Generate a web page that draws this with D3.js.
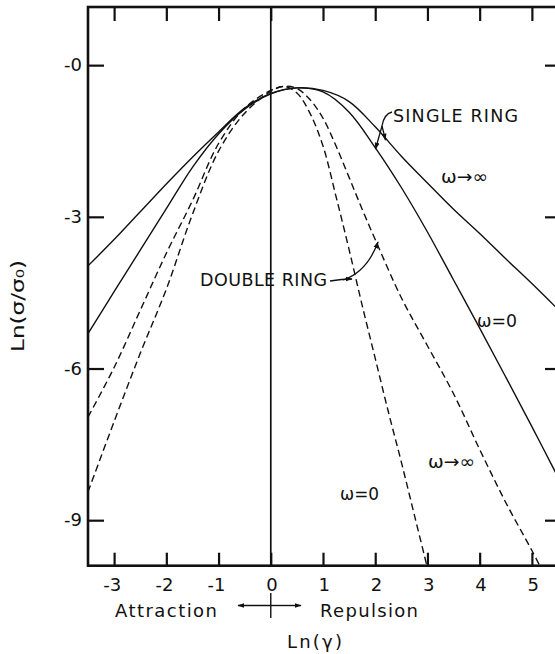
<!DOCTYPE html>
<html>
<head>
<meta charset="utf-8">
<script src="https://cdn.jsdelivr.net/npm/d3@7"></script>
<style>
  html, body { margin: 0; padding: 0; background: #fff; }
  svg { display: block; }
  text { font-family: "DejaVu Sans", "Liberation Sans", sans-serif; fill: #111; }
</style>
</head>
<body>
<svg id="chart" width="555" height="654"></svg>
<script>
// ---------- data ----------
const xTicks = [-3, -2, -1, 0, 1, 2, 3, 4, 5];
const xTickLabels = ["-3", "-2", "-1", "0", "1", "2", "3", "4", "5"];
const yTicks = [0, -3, -6, -9];
const yTickLabels = ["-0", "-3", "-6", "-9"];

// Single ring, omega -> infinity (solid)
const singleInfX = [-3.5, -3, -2.5, -2, -1.5, -1, -0.5, 0, 0.5, 1, 1.5, 2, 2.5, 3, 3.5, 4, 4.5, 5, 5.5];
const singleInfY = [-3.97, -3.45, -2.9, -2.35, -1.82, -1.32, -0.85, -0.56, -0.45, -0.5, -0.72, -1.22, -1.8, -2.33, -2.85, -3.33, -3.83, -4.32, -4.83];
// Single ring, omega = 0 (solid)
const singleZeroX = [-3.5, -3, -2.5, -2, -1.5, -1, -0.5, 0, 0.5, 1, 1.5, 2, 2.5, 3, 3.5, 4, 4.5, 5, 5.5];
const singleZeroY = [-5.31, -4.48, -3.66, -2.84, -2.02, -1.36, -0.87, -0.57, -0.45, -0.53, -0.93, -1.63, -2.42, -3.3, -4.25, -5.2, -6.17, -7.15, -8.15];
// Double ring, omega -> infinity (dashed)
const doubleInfX = [-3.5, -3, -2.5, -2, -1.5, -1, -0.5, 0, 0.25, 0.5, 0.75, 1, 1.25, 1.5, 1.75, 2, 2.5, 3, 3.5, 4, 4.5, 5, 5.3];
const doubleInfY = [-6.96, -5.98, -4.85, -3.72, -2.68, -1.55, -0.85, -0.5, -0.42, -0.46, -0.68, -1.05, -1.6, -2.22, -2.85, -3.45, -4.6, -5.55, -6.5, -7.6, -8.65, -9.6, -10.2];
// Double ring, omega = 0 (dashed)
const doubleZeroX = [-3.5, -3, -2.5, -2, -1.5, -1, -0.5, 0, 0.25, 0.5, 0.75, 1, 1.25, 1.5, 1.75, 2, 2.25, 2.5, 2.75, 3, 3.1];
const doubleZeroY = [-8.44, -7.05, -5.7, -4.43, -2.95, -1.7, -0.95, -0.52, -0.42, -0.55, -0.95, -1.6, -2.6, -3.65, -4.75, -5.8, -6.85, -7.85, -8.9, -9.95, -10.4];

const seriesNames = ["single ω→∞", "single ω=0", "double ω→∞", "double ω=0"];
const seriesDash = [false, false, true, true];

// ---------- layout ----------
const svg = d3.select("#chart");
const mLeft = 88, mRight = 558, mTop = 7, mBottom = 565.7;
const x = d3.scaleLinear().domain([-3.5, 5.5]).range([mLeft, mRight]);
const y = d3.scaleLinear().domain([1.15, -9.9]).range([mTop, mBottom]);

const defs = svg.append("defs");
defs.append("clipPath").attr("id", "plotclip")
  .append("rect").attr("x", mLeft).attr("y", mTop).attr("width", mRight - mLeft).attr("height", mBottom - mTop);
defs.append("marker").attr("id", "arr").attr("viewBox", "0 0 10 10")
  .attr("refX", 9).attr("refY", 5).attr("markerWidth", 7).attr("markerHeight", 7)
  .attr("orient", "auto-start-reverse").attr("markerUnits", "userSpaceOnUse")
  .append("path").attr("d", "M0,1.5 L10,5 L0,8.5 Z").attr("fill", "#111");

// ---------- curves ----------
const xs = [singleInfX, singleZeroX, doubleInfX, doubleZeroX];
const ys = [singleInfY, singleZeroY, doubleInfY, doubleZeroY];
const line = d3.line().x(d => x(d[0])).y(d => y(d[1])).curve(d3.curveCatmullRom.alpha(0.5));
const gCurves = svg.append("g").attr("clip-path", "url(#plotclip)");
xs.forEach((xv, i) => {
  const pts = xv.map((v, j) => [v, ys[i][j]]);
  gCurves.append("path").datum(pts)
    .attr("d", line)
    .attr("fill", "none").attr("stroke", "#111").attr("stroke-width", 1.4)
    .attr("stroke-dasharray", seriesDash[i] ? "7,4" : null)
    .attr("data-name", seriesNames[i]);
});

// vertical line at x = 0
svg.append("line").attr("x1", x(0)).attr("x2", x(0)).attr("y1", mTop).attr("y2", mBottom)
  .attr("stroke", "#111").attr("stroke-width", 1.7);

// ---------- frame ----------
svg.append("rect").attr("x", mLeft).attr("y", mTop).attr("width", mRight - mLeft).attr("height", mBottom - mTop)
  .attr("fill", "none").attr("stroke", "#111").attr("stroke-width", 2.6);

// ---------- axes (ticks inside) ----------
const axB = d3.axisBottom(x).tickValues(xTicks).tickSize(-13).tickPadding(0).tickFormat((d, i) => xTickLabels[i]);
const gB = svg.append("g").attr("transform", `translate(0,${mBottom})`).call(axB);
gB.select(".domain").remove();
gB.selectAll("line").attr("stroke", "#111").attr("stroke-width", 2.2);
gB.selectAll("text")
  .attr("font-size", 18).attr("dy", null).attr("y", 25).attr("fill", "#111")
  .attr("font-family", "DejaVu Sans, sans-serif")
  .attr("text-anchor", "end").attr("x", 6.5);

const axT = d3.axisTop(x).tickValues(xTicks).tickSize(-14).tickFormat("");
const gT = svg.append("g").attr("transform", `translate(0,${mTop})`).call(axT);
gT.select(".domain").remove();
gT.selectAll("line").attr("stroke", "#111").attr("stroke-width", 2.2);

const axL = d3.axisLeft(y).tickValues(yTicks).tickSize(-16).tickPadding(0).tickFormat((d, i) => yTickLabels[i]);
const gL = svg.append("g").attr("transform", `translate(${mLeft},0)`).call(axL);
gL.select(".domain").remove();
gL.selectAll("line").attr("stroke", "#111").attr("stroke-width", 2.2);
gL.selectAll("text").attr("font-size", 18).attr("x", -6).attr("fill", "#111")
  .attr("font-family", "DejaVu Sans, sans-serif");

const axR = d3.axisRight(y).tickValues(yTicks).tickSize(-13).tickFormat("");
const gR = svg.append("g").attr("transform", `translate(${mRight},0)`).call(axR);
gR.select(".domain").remove();
gR.selectAll("line").attr("stroke", "#111").attr("stroke-width", 2.2);

// ---------- axis titles ----------
svg.append("text").attr("transform", "translate(24,306) rotate(-90)")
  .attr("text-anchor", "middle").attr("font-size", 18)
  .attr("textLength", 92).attr("lengthAdjust", "spacingAndGlyphs").text("Ln(σ/σ₀)");
svg.append("text").attr("x", 287).attr("y", 648)
  .attr("font-size", 18).attr("textLength", 55).attr("lengthAdjust", "spacing").text("Ln(γ)");
svg.append("text").attr("x", 115).attr("y", 617).attr("font-size", 18)
  .attr("textLength", 102).attr("lengthAdjust", "spacing").text("Attraction");
svg.append("text").attr("x", 320).attr("y", 617).attr("font-size", 18)
  .attr("textLength", 98).attr("lengthAdjust", "spacing").text("Repulsion");
// attraction / repulsion arrow
svg.append("line").attr("x1", x(0)).attr("x2", 238).attr("y1", 605.5).attr("y2", 605.5)
  .attr("stroke", "#111").attr("stroke-width", 1.4).attr("marker-end", "url(#arr)");
svg.append("line").attr("x1", x(0)).attr("x2", 301).attr("y1", 605.5).attr("y2", 605.5)
  .attr("stroke", "#111").attr("stroke-width", 1.4).attr("marker-end", "url(#arr)");
svg.append("line").attr("x1", x(0)).attr("x2", x(0)).attr("y1", 593).attr("y2", 618)
  .attr("stroke", "#111").attr("stroke-width", 1.4);

// ---------- annotations ----------
svg.append("text").attr("x", 393).attr("y", 122).attr("font-size", 17.5)
  .attr("textLength", 125).attr("lengthAdjust", "spacing").text("SINGLE RING");
svg.append("text").attr("x", 200).attr("y", 286).attr("font-size", 17.5)
  .attr("textLength", 127).attr("lengthAdjust", "spacing").text("DOUBLE RING");

const ann = svg.append("g").attr("fill", "none").attr("stroke", "#111").attr("stroke-width", 1.3);
ann.append("path").attr("d", "M392,112 Q384,114 382,126 L375.5,149").attr("marker-end", "url(#arr)");
ann.append("path").attr("d", "M382,126 L385.5,140").attr("marker-end", "url(#arr)");
ann.append("path").attr("d", "M330,281 Q342,279 352,279").attr("marker-end", "url(#arr)");
ann.append("path").attr("d", "M343,280 Q367,272 378,242").attr("marker-end", "url(#arr)");

const omegaLabels = [
  { t: "ω→∞", px: 441, py: 183, w: 47 },
  { t: "ω=0", px: 477, py: 327, w: 40 },
  { t: "ω→∞", px: 428, py: 468, w: 47 },
  { t: "ω=0", px: 340, py: 500, w: 39 }
];
omegaLabels.forEach(o => {
  svg.append("text").attr("x", o.px).attr("y", o.py).attr("font-size", 18)
    .attr("textLength", o.w).attr("lengthAdjust", "spacingAndGlyphs").text(o.t);
});
</script>
</body>
</html>
